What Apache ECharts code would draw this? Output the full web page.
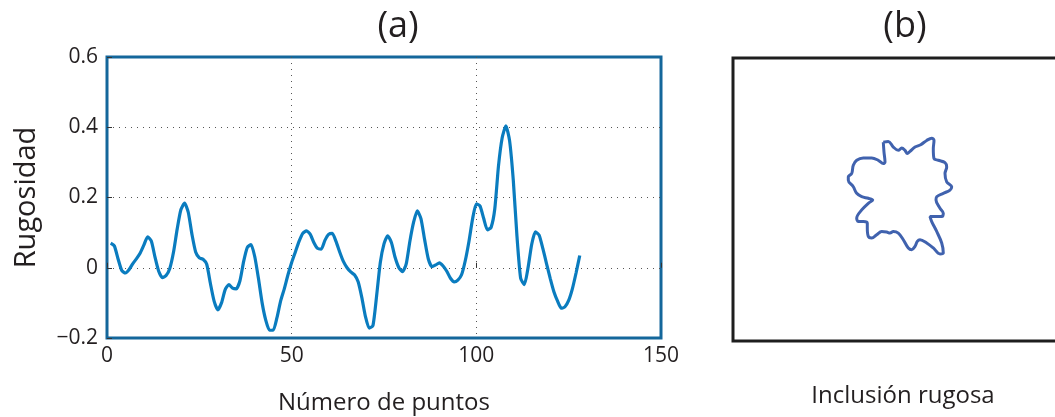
<!DOCTYPE html>
<html>
<head>
<meta charset="utf-8">
<script src="https://cdn.jsdelivr.net/npm/echarts@6/dist/echarts.min.js"></script>
<style>
  html, body { margin: 0; padding: 0; background: #ffffff; }
  #chart { width: 1055px; height: 417px; }
</style>
</head>
<body>
<div id="chart"></div>
<script>
// Roughness profile sampled at points 1..128
const roughness = [
  0.070, 0.062, 0.025, -0.008, -0.015, -0.005, 0.012, 0.026, 0.042, 0.065,
  0.088, 0.076, 0.030, -0.010, -0.028, -0.022, -0.002, 0.044, 0.110, 0.165,
  0.184, 0.158, 0.095, 0.045, 0.028, 0.024, 0.010, -0.045, -0.095, -0.120,
  -0.100, -0.062, -0.048, -0.058, -0.060, -0.037, 0.018, 0.058, 0.066, 0.032,
  -0.030, -0.100, -0.150, -0.178, -0.178, -0.143, -0.095, -0.060, -0.020, 0.015,
  0.045, 0.075, 0.098, 0.105, 0.096, 0.072, 0.055, 0.053, 0.078, 0.095,
  0.098, 0.075, 0.045, 0.018, 0.000, -0.012, -0.020, -0.040, -0.085, -0.140,
  -0.172, -0.165, -0.080, 0.015, 0.068, 0.091, 0.072, 0.030, 0.001, -0.011,
  0.010, 0.075, 0.129, 0.162, 0.140, 0.080, 0.025, 0.003, 0.008, 0.014,
  0.005, -0.010, -0.030, -0.040, -0.035, -0.020, 0.020, 0.075, 0.140, 0.182,
  0.176, 0.140, 0.108, 0.115, 0.168, 0.290, 0.370, 0.404, 0.362, 0.250,
  0.090, -0.030, -0.048, 0.000, 0.067, 0.102, 0.093, 0.055, 0.012, -0.030,
  -0.068, -0.095, -0.115, -0.111, -0.093, -0.060, -0.015, 0.035
];
const pointNumbers = roughness.map((_, i) => i + 1);

// Axis ticks of panel (a)
const xTicks = [0, 50, 100, 150];
const yTicks = [-0.2, 0, 0.2, 0.4, 0.6];

// Outline of the rough inclusion (panel b), closed contour
const outlineX = [
  -0.167, -0.117, -0.067, -0.017, 0.017, 0.050, 0.073, 0.100, 0.150, 0.207,
  0.267, 0.317, 0.340, 0.333, 0.340, 0.383, 0.450, 0.467, 0.450, 0.467,
  0.517, 0.500, 0.433, 0.367, 0.360, 0.400, 0.433, 0.417, 0.333, 0.300,
  0.317, 0.367, 0.417, 0.433, 0.400, 0.333, 0.267, 0.200, 0.173, 0.150,
  0.117, 0.083, 0.033, -0.017, -0.067, -0.100, -0.133, -0.183, -0.233, -0.283,
  -0.317, -0.327, -0.327, -0.367, -0.417, -0.433, -0.383, -0.317, -0.273, -0.317,
  -0.383, -0.433, -0.467, -0.517, -0.517, -0.483, -0.467, -0.433, -0.367, -0.283,
  -0.217, -0.167, -0.150, -0.160, -0.167
];
const outlineY = [
  0.533, 0.540, 0.483, 0.450, 0.473, 0.450, 0.417, 0.440, 0.483, 0.507,
  0.550, 0.573, 0.550, 0.467, 0.367, 0.350, 0.327, 0.283, 0.217, 0.133,
  0.083, 0.050, 0.017, -0.017, -0.050, -0.133, -0.183, -0.217, -0.217, -0.217,
  -0.267, -0.367, -0.483, -0.583, -0.593, -0.533, -0.483, -0.450, -0.467, -0.517,
  -0.550, -0.533, -0.450, -0.383, -0.367, -0.383, -0.373, -0.367, -0.400, -0.433,
  -0.417, -0.333, -0.283, -0.267, -0.267, -0.233, -0.150, -0.083, -0.050, -0.033,
  -0.017, 0.017, 0.083, 0.150, 0.183, 0.217, 0.300, 0.350, 0.373, 0.373,
  0.350, 0.317, 0.333, 0.433, 0.533
];

const FONT = 'Open Sans';
const TEXT = '#231f20';

const chart = echarts.init(document.getElementById('chart'), null, { renderer: 'canvas' });

const fmtY = v => {
  const r = Math.round(v * 10) / 10;
  if (r < 0) return '\u2212' + Math.abs(r);
  return String(r);
};

chart.setOption({
  backgroundColor: '#ffffff',
  animation: false,
  title: [
    { text: '(a)', left: 393, top: 4, textAlign: 'center',
      textStyle: { fontFamily: FONT, fontSize: 36, fontWeight: 'normal', color: TEXT } },
    { text: '(b)', left: 900, top: 4, textAlign: 'center',
      textStyle: { fontFamily: FONT, fontSize: 36, fontWeight: 'normal', color: TEXT } }
  ],
  grid: [
    { left: 107, top: 57, width: 554, height: 281, show: true, outerBoundsMode: 'none',
      borderColor: '#14679b', borderWidth: 3, backgroundColor: 'transparent' },
    { left: 733, top: 58, width: 340, height: 283, show: true, outerBoundsMode: 'none',
      borderColor: '#1e1e1e', borderWidth: 3, backgroundColor: 'transparent' }
  ],
  xAxis: [
    {
      gridIndex: 0, type: 'value',
      min: xTicks[0], max: xTicks[xTicks.length - 1], interval: 50,
      name: 'Número de puntos', nameLocation: 'middle', nameGap: 53,
      nameTextStyle: { fontFamily: FONT, fontSize: 24, color: TEXT },
      axisLine: { show: false },
      axisTick: { show: true, inside: true, length: 5, lineStyle: { color: '#333' } },
      axisLabel: { fontFamily: FONT, fontSize: 21, color: TEXT, margin: 8 },
      splitLine: { show: true, showMinLine: false, showMaxLine: false,
        lineStyle: { color: '#555', type: [1, 5], width: 1 } }
    },
    { gridIndex: 1, type: 'value', min: -1.67, max: 1.73, show: false }
  ],
  yAxis: [
    {
      gridIndex: 0, type: 'value',
      min: yTicks[0], max: yTicks[yTicks.length - 1], interval: 0.2,
      name: 'Rugosidad', nameLocation: 'middle', nameGap: 66, nameRotate: 90,
      nameTextStyle: { fontFamily: FONT, fontSize: 29, color: TEXT },
      axisLine: { show: false },
      axisTick: { show: true, inside: true, length: 5, lineStyle: { color: '#333' } },
      axisLabel: { fontFamily: FONT, fontSize: 21, color: TEXT, margin: 9, formatter: fmtY },
      splitLine: { show: true, showMinLine: false, showMaxLine: false,
        lineStyle: { color: '#555', type: [1, 5], width: 1 } }
    },
    { gridIndex: 1, type: 'value', min: -1.47, max: 1.38, show: false }
  ],
  graphic: [
    { type: 'text', x: 903, y: 384,
      style: { text: 'Inclusión rugosa', fontFamily: FONT, fontSize: 24, fill: TEXT,
        textAlign: 'center', textVerticalAlign: 'top' } }
  ],
  series: [
    {
      type: 'line', xAxisIndex: 0, yAxisIndex: 0,
      data: pointNumbers.map((x, i) => [x, roughness[i]]),
      showSymbol: false, smooth: 0.2,
      lineStyle: { color: '#0a7cbf', width: 3.2 },
      z: 3
    },
    {
      type: 'line', xAxisIndex: 1, yAxisIndex: 1,
      data: outlineX.map((x, i) => [x, outlineY[i]]),
      showSymbol: false, smooth: 0.35,
      lineStyle: { color: '#4062ae', width: 3 },
      z: 3
    }
  ]
});
</script>
</body>
</html>
